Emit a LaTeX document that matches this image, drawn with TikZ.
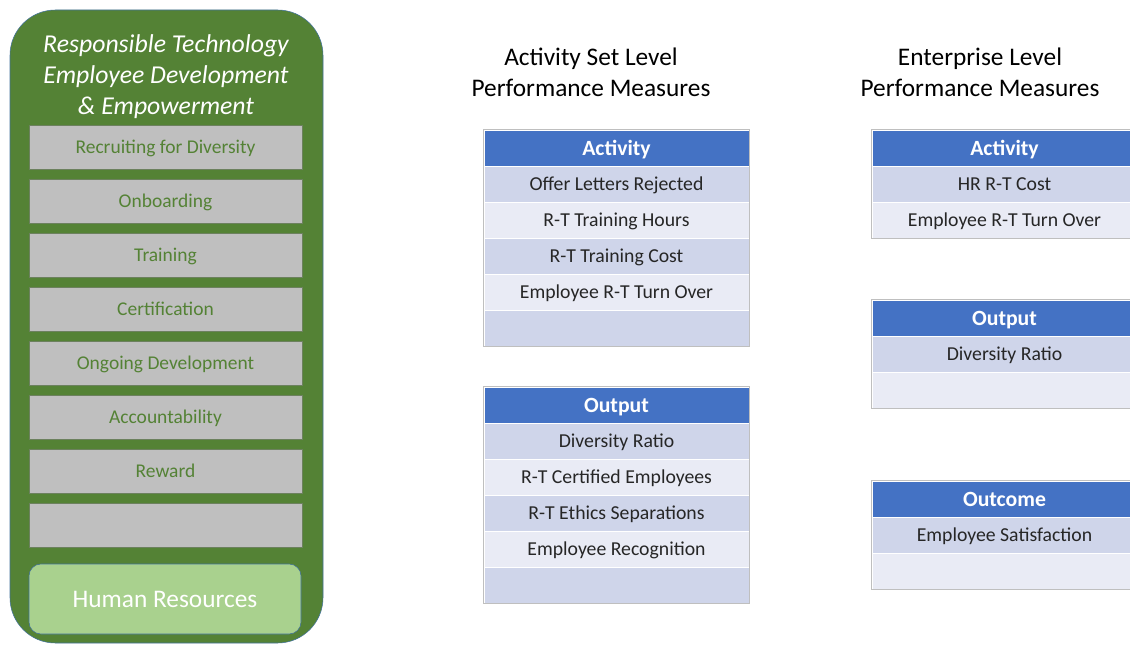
\documentclass[tikz,border=0pt]{standalone}
\usepackage{fontspec}
\setmainfont{Carlito}
\usepackage{tikz}
\usetikzlibrary{positioning}

\definecolor{rtgreen}{HTML}{548235}
\definecolor{rtedge}{HTML}{41719C}
\definecolor{rtgray}{HTML}{BFBFBF}
\definecolor{rtlight}{HTML}{A9D18E}
\definecolor{hdblue}{HTML}{4472C4}
\definecolor{rowdark}{HTML}{CFD5EA}
\definecolor{rowlight}{HTML}{E9EBF5}

\tikzset{
  panel/.style={draw=rtedge, fill=rtgreen, rounded corners=34pt, minimum width=234.75pt, minimum height=474.75pt, inner sep=0pt},
  stagebox/.style={draw=rtgreen!45!gray, fill=rtgray, minimum width=204.75pt, minimum height=33pt, inner sep=0pt, text depth=0pt, text=rtgreen, font=\fontsize{14.6}{17}\selectfont},
  unitbox/.style={draw=rtedge, fill=rtlight, rounded corners=9pt, minimum width=204pt, minimum height=52.5pt, inner sep=0pt, text=white, font=\fontsize{19}{22}\selectfont},
  hdcell/.style={draw=white, fill=hdblue, minimum width=198.75pt, minimum height=27pt, inner sep=0pt, text depth=0pt, text=white, font=\fontsize{16.3}{19}\selectfont\bfseries},
  rowcell/.style={draw=white, minimum width=198.75pt, minimum height=27pt, inner sep=0pt, text depth=0pt, text=black!85, font=\fontsize{14.8}{17}\selectfont},
  tableframe/.style={draw=black!25, line width=0.9pt},
  heading/.style={align=center, font=\fontsize{19}{23.2}\selectfont}
}

\begin{document}
\begin{tikzpicture}[x=0.75pt, y=-0.75pt]
  \useasboundingbox (0,0) rectangle (1130,645);

  % left panel
  \node[panel] (panel) at (166.5,326.5) {};
  \node[align=center, text=white, font=\fontsize{19.3}{23.2}\selectfont\itshape] (title) at (166,77)
    {Responsible Technology\\Employee Development\\\& Empowerment};
  \foreach \txt [count=\i from 0] in {Recruiting for Diversity, Onboarding, Training, Certification, Ongoing Development, Accountability, Reward, {}}
    \node[stagebox] (stage\i) at (165.5,147+54*\i) {\txt};
  \node[unitbox] (hr) at (165,599) {Human Resources};

  % column headings
  \node[heading] (setlevel) at (591,72) {Activity Set Level\\Performance Measures};
  \node[heading] (entlevel) at (980,72) {Enterprise Level\\Performance Measures};

  % activity set level: activity
  \node[hdcell] (sa0) at (616.5,148) {Activity};
  \foreach \txt [count=\i] in {Offer Letters Rejected, R-T Training Hours, R-T Training Cost, Employee R-T Turn Over, {}} {
    \ifodd\i \def\rowcol{rowdark}\else\def\rowcol{rowlight}\fi
    \node[rowcell, fill=\rowcol] (sa\i) at (616.5,148+36*\i) {\txt};
  }
  \draw[tableframe] (sa0.north west) rectangle (sa5.south east);

  % activity set level: output
  \node[hdcell] (so0) at (616.5,405) {Output};
  \foreach \txt [count=\i] in {Diversity Ratio, R-T Certified Employees, R-T Ethics Separations, Employee Recognition, {}} {
    \ifodd\i \def\rowcol{rowdark}\else\def\rowcol{rowlight}\fi
    \node[rowcell, fill=\rowcol] (so\i) at (616.5,405+36*\i) {\txt};
  }
  \draw[tableframe] (so0.north west) rectangle (so5.south east);

  % enterprise level: activity
  \node[hdcell] (ea0) at (1004.5,148) {Activity};
  \foreach \txt [count=\i] in {HR R-T Cost, Employee R-T Turn Over} {
    \ifodd\i \def\rowcol{rowdark}\else\def\rowcol{rowlight}\fi
    \node[rowcell, fill=\rowcol] (ea\i) at (1004.5,148+36*\i) {\txt};
  }
  \draw[tableframe] (ea0.north west) rectangle (ea2.south east);

  % enterprise level: output
  \node[hdcell] (eo0) at (1004.5,318) {Output};
  \foreach \txt [count=\i] in {Diversity Ratio, {}} {
    \ifodd\i \def\rowcol{rowdark}\else\def\rowcol{rowlight}\fi
    \node[rowcell, fill=\rowcol] (eo\i) at (1004.5,318+36*\i) {\txt};
  }
  \draw[tableframe] (eo0.north west) rectangle (eo2.south east);

  % enterprise level: outcome
  \node[hdcell] (ec0) at (1004.5,499) {Outcome};
  \foreach \txt [count=\i] in {Employee Satisfaction, {}} {
    \ifodd\i \def\rowcol{rowdark}\else\def\rowcol{rowlight}\fi
    \node[rowcell, fill=\rowcol] (ec\i) at (1004.5,499+36*\i) {\txt};
  }
  \draw[tableframe] (ec0.north west) rectangle (ec2.south east);
\end{tikzpicture}
\end{document}
